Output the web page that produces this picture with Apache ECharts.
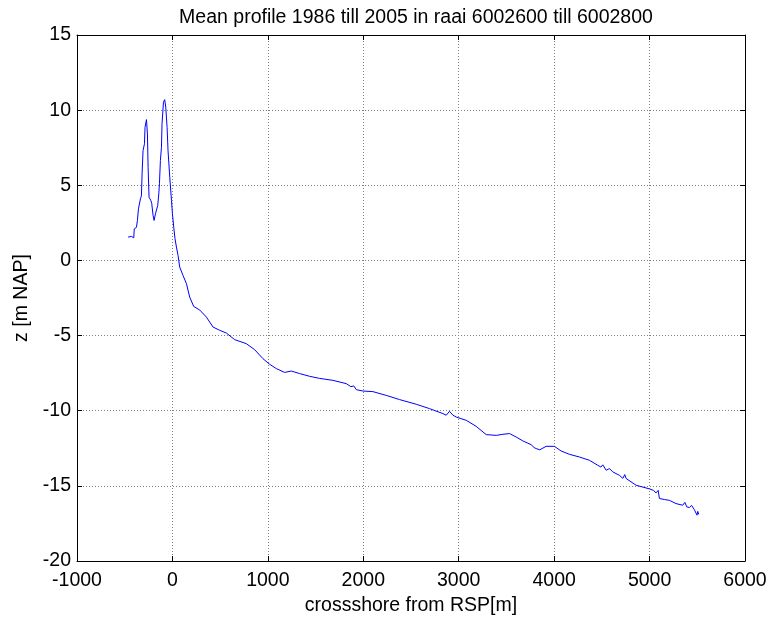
<!DOCTYPE html>
<html>
<head>
<meta charset="utf-8">
<title>Mean profile</title>
<script src="https://cdn.jsdelivr.net/npm/echarts@6/dist/echarts.min.js"></script>
<style>
  html, body { margin: 0; padding: 0; background: #fff; }
  #chart { width: 768px; height: 619px; }
</style>
</head>
<body>
<div id="chart"></div>
<script>
// crossshore distance from RSP [m]
const crossshore = [
  -465, -445, -430, -405, -400, -390, -377, -367, -356, -348, -342, -335, -325, -318, -308,
  -293, -287, -272, -262, -255, -245, -227, -217, -203, -192, -178, -161, -154, -143, -136,
  -126, -115, -109, -94, -81, -70, -56, -46, -28, -10, 0, 14, 27, 42, 59, 76, 111, 147, 181,
  223, 286, 356, 425, 495, 565, 652, 775, 862, 949, 1019, 1089, 1176, 1246, 1333, 1438, 1542,
  1682, 1822, 1870, 1900, 1927, 1996, 2101, 2240, 2380, 2555, 2694, 2834, 2869, 2904, 2940,
  2974, 3079, 3183, 3288, 3393, 3463, 3532, 3602, 3672, 3759, 3790, 3812, 3830, 3850, 3864,
  3916, 4003, 4073, 4160, 4265, 4370, 4457, 4490, 4510, 4545, 4580, 4614, 4684, 4720, 4740,
  4754, 4859, 4998, 5040, 5068, 5090, 5103, 5155, 5207, 5277, 5347, 5370, 5390, 5417, 5440,
  5469, 5480, 5497, 5505, 5511, 5515
];
// mean bed level z [m NAP]
const zMean = [
  1.55, 1.65, 1.6, 1.5, 2.1, 2.0, 2.2, 2.66, 3.43, 3.3, 3.5, 4.1, 4.3, 5.76, 7.3,
  7.76, 8.86, 9.37, 8.42, 6.2, 4.2, 4.0, 3.8, 3.0, 2.66, 3.1, 3.1, 3.66, 4.43, 5.1,
  6.65, 7.53, 9.09, 10.53, 10.7, 10.2, 8.86, 7.3, 5.54, 3.99, 3.1, 2.2, 1.44, 0.89, 0.33, -0.44, -1.0, -1.55, -2.44,
  -3.06, -3.3, -3.77, -4.43, -4.65, -4.83, -5.27, -5.54, -5.94, -6.54, -6.91, -7.2, -7.45, -7.36, -7.53, -7.71, -7.85,
  -7.98, -8.2, -8.4, -8.35, -8.6, -8.69, -8.73, -8.98, -9.26, -9.57, -9.86, -10.19, -10.3, -10.04, -10.3,
  -10.42, -10.64, -11.04, -11.59, -11.64, -11.57, -11.52, -11.75, -12.01, -12.26, -12.45, -12.52, -12.4, -12.6, -12.59,
  -12.37, -12.37, -12.68, -12.9, -13.08, -13.3, -13.63, -13.75, -13.6, -13.96, -13.85, -14.07, -14.3, -14.5, -14.25,
  -14.51, -14.96, -15.2, -15.3, -15.47, -15.3, -15.84, -15.91, -15.96, -16.18, -16.29, -16.1, -16.4, -16.44, -16.3,
  -16.58, -16.5, -16.95, -16.7, -16.6, -16.9
];

const chart = echarts.init(document.getElementById('chart'), null, { renderer: 'canvas' });
const font = 'Liberation Sans, Arial, Helvetica, sans-serif';
const fs = 19.5;
const gridLine = { show: true, lineStyle: { color: '#808080', type: [1, 2], width: 1 } };
const tickIn = { show: true, inside: true, length: 5, lineStyle: { color: '#000' } };
const frame = { show: true, onZero: false, lineStyle: { color: '#000', width: 1 } };

const option = {
  animation: false,
  backgroundColor: '#fff',
  title: {
    text: 'Mean profile 1986 till 2005 in raai 6002600 till 6002800',
    left: 411,
    top: 3,
    textAlign: 'center',
    textStyle: { fontFamily: font, fontSize: fs, fontWeight: 'normal', color: '#000' }
  },
  grid: { left: 77, right: 23, top: 35, bottom: 58, containLabel: false, outerBoundsMode: 'none' },
  xAxis: [
    {
      type: 'value', min: -1000, max: 6000, interval: 1000, position: 'bottom',
      name: 'crossshore from RSP[m]', nameLocation: 'middle', nameGap: 35,
      nameTextStyle: { fontFamily: font, fontSize: fs, color: '#000' },
      axisLine: frame, axisTick: tickIn, splitLine: gridLine,
      axisLabel: {
        fontFamily: font, fontSize: fs, color: '#000', margin: 10,
        showMinLabel: true, showMaxLabel: true,
        formatter: v => String(v)
      }
    },
    {
      type: 'value', min: -1000, max: 6000, interval: 1000, position: 'top',
      axisLine: frame, axisTick: tickIn, splitLine: { show: false }, axisLabel: { show: false }
    }
  ],
  yAxis: [
    {
      type: 'value', min: -20, max: 15, interval: 5, position: 'left',
      name: 'z [m NAP]', nameLocation: 'middle', nameGap: 44,
      nameTextStyle: { fontFamily: font, fontSize: fs, color: '#000' },
      axisLine: frame, axisTick: tickIn, splitLine: gridLine,
      axisLabel: {
        fontFamily: font, fontSize: fs, color: '#000', margin: 6,
        showMinLabel: true, showMaxLabel: true,
        formatter: v => String(v)
      }
    },
    {
      type: 'value', min: -20, max: 15, interval: 5, position: 'right',
      axisLine: frame, axisTick: tickIn, splitLine: { show: false }, axisLabel: { show: false }
    }
  ],
  series: [
    {
      type: 'line',
      xAxisIndex: 0,
      yAxisIndex: 0,
      data: crossshore.map((x, i) => [x, zMean[i]]),
      showSymbol: false,
      lineStyle: { color: '#0000ff', width: 1 },
      z: 5
    }
  ]
};

chart.setOption(option);
</script>
</body>
</html>
